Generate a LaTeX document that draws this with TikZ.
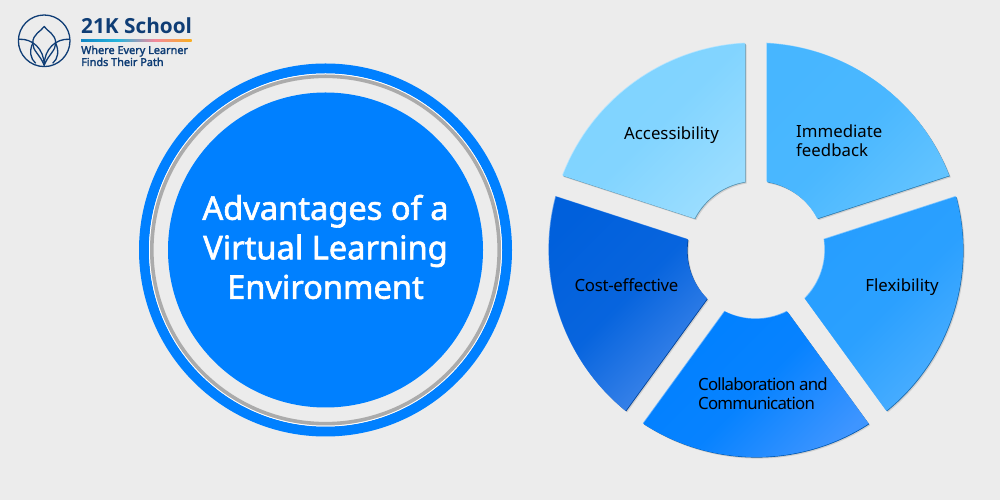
\documentclass[tikz,border=0pt]{standalone}
\usepackage{fontspec}
\setmainfont{Noto Sans}
\newfontfamily\logofont{Open Sans}
\usepackage{tikz}
\usetikzlibrary{positioning}

\definecolor{pagegray}{HTML}{ECECEC}
\definecolor{ringblue}{HTML}{0080FF}
\definecolor{ringgray}{HTML}{ABABAB}
\definecolor{logonavy}{HTML}{0F3D75}
\definecolor{barblue}{HTML}{1186C4}
\definecolor{barcyan}{HTML}{27B5DC}
\definecolor{barpink}{HTML}{F58A9C}
\definecolor{baramber}{HTML}{F9AE1E}
\definecolor{accstart}{HTML}{7FD3FF}
\definecolor{accend}{HTML}{9ADDFF}
\definecolor{immstart}{HTML}{47B6FF}
\definecolor{immend}{HTML}{62C3FF}
\definecolor{flexstart}{HTML}{269EFF}
\definecolor{flexend}{HTML}{4DAFFF}
\definecolor{collstart}{HTML}{0080FF}
\definecolor{collend}{HTML}{3E95FF}
\definecolor{coststart}{HTML}{0060DC}
\definecolor{costend}{HTML}{3F86EA}

\tikzset{
  petaltext/.style={font=\fontsize{16.8}{18.5}\selectfont, text=black, align=left, inner sep=0pt},
  logoline/.style={draw=logonavy, line width=1.3pt, line join=round},
  logotext/.style={text=logonavy, inner sep=0pt},
}

% stroked text, a little heavier than the regular cut
\newcommand{\heavytext}[2]{\special{pdf:code 2 Tr #1 w}#2\special{pdf:code 0 Tr}}
\newcommand{\petalpath}[1]{(#1+32.95:207) arc[start angle=#1+32.95, end angle=#1-32.95, radius=207] -- (#1-26.83:69) arc[start angle=#1-26.83, end angle=#1+26.83, radius=69] -- cycle}
\newcommand{\petal}[3]{
  \fill[black, opacity=0.12, xshift=1.6pt, yshift=-1.6pt] \petalpath{#1};
  \fill[#2!68!black, xshift=0.6pt, yshift=-0.6pt] \petalpath{#1};
  \fill[#2!60!white, xshift=-0.6pt, yshift=0.6pt] \petalpath{#1};
  \shade[left color=#2, right color=#3, middle color=#2!88!#3, shading angle=45] \petalpath{#1};
}

\begin{document}
\begin{tikzpicture}[x=1pt, y=1pt]
  \fill[pagegray] (0,0) rectangle (1000,500);

  % logo
  \begin{scope}[shift={(44.2,459.2)}]
    \draw[logoline] (0,0) circle (25.8);
    \draw[logoline] (0,14.3) .. controls (-3,9.5) and (-11.5,7) .. (-11.5,-2.5)
      .. controls (-11.5,-10) and (-4,-14) .. (0,-24.5)
      .. controls (4,-14) and (11.5,-10) .. (11.5,-2.5)
      .. controls (11.5,7) and (3,9.5) .. (0,14.3) -- cycle;
    \draw[logoline] (-25.2,1.5) .. controls (-12,2.5) and (0,-8) .. (0,-24.5);
    \draw[logoline] (25.2,1.5) .. controls (12,2.5) and (0,-8) .. (0,-24.5);
    \draw[logoline] (-11.5,-2.5) .. controls (-15,-10) and (-14,-18) .. (-8.5,-22.5);
    \draw[logoline] (11.5,-2.5) .. controls (15,-10) and (14,-18) .. (8.5,-22.5);
  \end{scope}
  \node[logotext, anchor=base west, font=\logofont\bfseries\fontsize{20.8}{24}\selectfont] (School) at (81,466) {21K School};
  \shade[left color=barblue, right color=barpink, middle color=barcyan] (81,458) rectangle (155,460);
  \shade[left color=barpink, right color=baramber] (155,458) rectangle (191.5,460);
  \node[logotext, anchor=base west, font=\fontsize{10.9}{12}\selectfont] (Motto) at (81,446) {\heavytext{0.25}{Where Every Learner}};
  \node[logotext, anchor=base west, font=\fontsize{10.9}{12}\selectfont] (Path) at (81,434) {\heavytext{0.25}{Finds Their Path}};

  % left disc
  \coordinate (Disc) at (325.5,250);
  \draw[ringblue, line width=10pt] (Disc) circle (181.5);
  \draw[white, line width=1pt] (Disc) circle (176);
  \draw[ringgray, line width=3.6pt] (Disc) circle (173.7);
  \fill[ringblue] (Disc) circle (157.5);
  \node[font=\fontsize{32.6}{39.5}\selectfont, text=white, align=center, inner sep=0pt] (Title) at (325.5,253) {\heavytext{0.6}{Advantages of a\\Virtual Learning\\Environment}};

  % exploded wheel
  \begin{scope}[shift={(756,250)}]
    \petal{126}{accstart}{accend}
    \petal{54}{immstart}{immend}
    \petal{-18}{flexstart}{flexend}
    \petal{-90}{collstart}{collend}
    \petal{-162}{coststart}{costend}
  \end{scope}

  \node[petaltext, anchor=base] (Accessibility) at (671.5,360) {Accessibility};
  \node[petaltext, anchor=west] (Immediate) at (796,359.5) {Immediate\\feedback};
  \node[petaltext, anchor=base] (Flexibility) at (902,208.3) {Flexibility};
  \node[petaltext, anchor=west] (Collaboration) at (698,106.5) {\addfontfeature{LetterSpace=-4.5}Collaboration and\\[0.5pt]\addfontfeature{LetterSpace=-4.5}Communication};
  \node[petaltext, anchor=base] (Cost) at (626.5,208.3) {\addfontfeature{LetterSpace=-1.7}Cost-effective};
\end{tikzpicture}
\end{document}
